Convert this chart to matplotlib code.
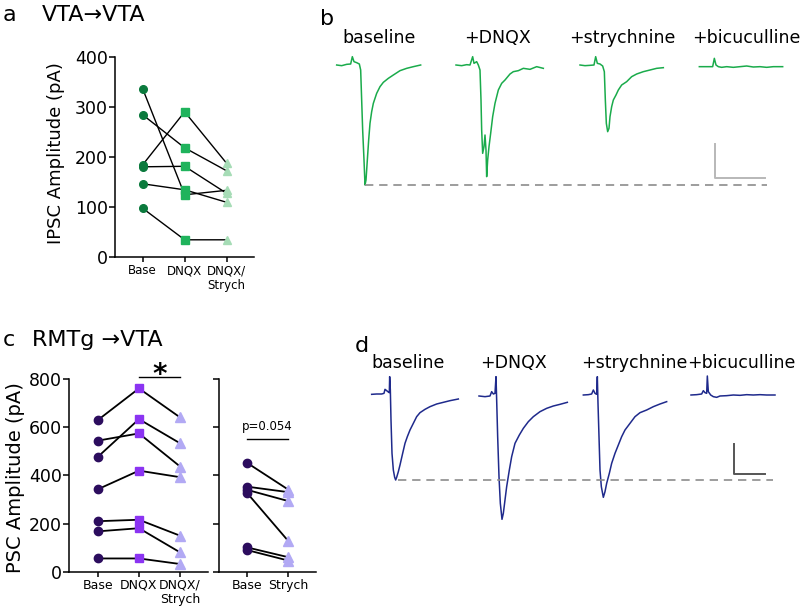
import matplotlib
matplotlib.use('Agg')
import matplotlib.pyplot as plt

plt.rcParams['font.family'] = ['DejaVu Sans']

# ---------------- data ----------------
cat3 = ['Base', 'DNQX', 'DNQX/\nStrych']
cat2 = ['Base', 'Strych']

# panel a (VTA->VTA), IPSC amplitude (pA)
a_base = [337, 285, 185, 181, 147, 98]
a_dnqx = [125, 219, 291, 182, 135, 35]
a_strych = [134, 173, 188, 128, 110, 35]
a_yticks = [0, 100, 200, 300, 400]

# panel c (RMTg->VTA), PSC amplitude (pA)
c_base = [628, 543, 476, 342, 210, 168, 56]
c_dnqx = [759, 573, 632, 419, 216, 181, 56]
c_strych = [639, 436, 532, 392, 150, 81, 33]
c2_base = [452, 353, 340, 328, 102, 91]
c2_strych = [340, 330, 293, 127, 61, 47]
c_yticks = [0, 200, 400, 600, 800]

# panel b traces (time ms, current pA)
b_base_t = [0, 15, 30, 42, 47, 52, 60, 68, 72, 75, 78, 82, 85, 88, 92, 96, 100, 105, 110, 120,
            130, 140, 155, 170, 190, 210, 230, 252]
b_base_i = [-1, -3, 1, 2, 24, 9, 6, 2, -16, -106, -196, -286, -361, -346, -286, -226, -176, -141, -116, -86,
            -66, -53, -41, -31, -18, -11, -6, -1]
b_dnqx_t = [0, 17, 32, 42, 50, 54, 62, 67, 72, 75, 77, 80, 84, 87, 90, 92, 95, 99, 104, 110,
            117, 127, 137, 147, 162, 172, 187, 202, 222, 242, 262]
b_dnqx_i = [-1, -3, 0, -1, 24, 4, 9, -1, -16, -106, -196, -266, -246, -211, -256, -336, -286, -246, -206, -156,
            -116, -76, -56, -46, -28, -21, -18, -11, -14, -6, -11]
b_strych_t = [0, 15, 30, 42, 47, 52, 60, 68, 73, 76, 79, 83, 87, 90, 95, 100, 108, 115, 125, 140,
              155, 170, 190, 210, 230, 250]
b_strych_i = [-1, -3, -2, -1, 24, 4, 2, -4, -21, -106, -176, -201, -191, -156, -126, -106, -91, -76, -61, -51,
              -36, -28, -21, -16, -11, -9]
b_bic_t = [0, 22, 40, 45, 50, 57, 67, 82, 102, 122, 142, 162, 182, 202, 222, 250]
b_bic_i = [-6, -6, -6, 19, -1, -6, -8, -6, -8, -6, -4, -7, -6, -8, -6, -6]

# panel d traces (time ms, current pA)
d_base_t = [0, 15, 30, 37, 40, 45, 50, 53, 54, 56, 58, 61, 65, 69, 72, 75, 80, 85, 93, 100,
            107, 115, 125, 135, 145, 160, 175, 195, 215, 235, 260]
d_base_i = [4, 6, 6, 10, 34, 26, 18, 14, 110, 30, -150, -350, -450, -494, -510, -494, -460, -420, -350, -290,
            -250, -210, -170, -130, -106, -86, -70, -54, -44, -34, -24]
d_dnqx_t = [0, 18, 33, 38, 43, 48, 51, 53, 56, 60, 64, 69, 73, 78, 83, 91, 98, 108, 121, 133,
            148, 163, 183, 203, 223, 243, 265]
d_dnqx_i = [-6, -10, -6, 20, 6, 10, 110, -30, -250, -490, -650, -746, -710, -630, -550, -450, -370, -290, -240, -200,
            -160, -130, -100, -80, -66, -56, -44]
d_strych_t = [0, 15, 25, 30, 35, 40, 42, 44, 47, 50, 54, 60, 65, 70, 78, 85, 95, 105, 115, 125,
              140, 155, 170, 190, 210, 230, 250]
d_strych_i = [0, 2, 6, 30, 10, 4, 110, -50, -250, -450, -550, -614, -580, -530, -470, -410, -350, -300, -250, -210,
              -170, -130, -106, -90, -70, -54, -40]
d_bic_t = [0, 17, 32, 37, 42, 47, 49, 52, 59, 67, 77, 87, 107, 127, 147, 167, 187, 207, 227, 252]
d_bic_i = [0, 2, 6, 26, 14, 10, 114, 20, 0, -10, -14, -6, -4, 0, -2, 2, 0, 2, 0, 0]

trace_labels = ['baseline', '+DNQX', '+strychnine', '+bicuculline']
b_scale = (100, 150)   # pA, ms
d_scale = (180, 93)    # pA, ms

# ---------------- layout ----------------
W, H = 800, 610
fig = plt.figure(figsize=(8, 6.1), dpi=100)


def px_axes(l, t, r, b):
    return fig.add_axes([l / W, 1 - b / H, (r - l) / W, (b - t) / H])


def style(ax, xlim, ylim, yticks, xticks, xlabels, xfs, ylabels=True):
    for s in ['top', 'right']:
        ax.spines[s].set_visible(False)
    for s in ['left', 'bottom']:
        ax.spines[s].set_linewidth(1.1)
    ax.set_xlim(*xlim)
    ax.set_ylim(*ylim)
    ax.set_yticks(yticks)
    ax.set_xticks(xticks)
    ax.set_xticklabels(xlabels, fontsize=xfs, linespacing=1.15)
    ax.tick_params(axis='y', direction='out', length=4.5, width=1.1, labelsize=12.5, pad=0.5)
    ax.tick_params(axis='x', direction='out', length=3.5, width=1.1, pad=1.5)
    if not ylabels:
        ax.set_yticklabels([])


GREEN_D, GREEN_M, GREEN_L = '#0b7a3d', '#1fb35c', '#a6dcb6'
PURP_D, PURP_M, PURP_L = '#2c0d5e', '#8b34f2', '#b2a9f4'

# panel a
axa = px_axes(115, 57.3, 254.3, 257.3)
style(axa, (-0.66, 2.66), (0, 400), a_yticks, [0, 1, 2], cat3, 8.5)
for i in range(len(a_base)):
    axa.plot([0, 1, 2], [a_base[i], a_dnqx[i], a_strych[i]], color='k', lw=1.0, zorder=2)
axa.plot([0] * len(a_base), a_base, 'o', ms=5.5, color=GREEN_D, zorder=3, clip_on=False)
axa.plot([1] * len(a_dnqx), a_dnqx, 's', ms=5.5, color=GREEN_M, zorder=3, clip_on=False)
axa.plot([2] * len(a_strych), a_strych, '^', ms=6, color=GREEN_L, zorder=3, clip_on=False)
axa.set_ylabel('IPSC Amplitude (pA)', fontsize=13)
axa.yaxis.set_label_coords(-0.36, 0.52)

# panel c left
axc = px_axes(69, 378.5, 207.7, 572)
style(axc, (-0.70, 2.67), (0, 800), c_yticks, [0, 1, 2], cat3, 9)
for i in range(len(c_base)):
    axc.plot([0, 1, 2], [c_base[i], c_dnqx[i], c_strych[i]], color='k', lw=1.3, zorder=2)
axc.plot([0] * len(c_base), c_base, 'o', ms=6, color=PURP_D, zorder=3, clip_on=False)
axc.plot([1] * len(c_dnqx), c_dnqx, 's', ms=6, color=PURP_M, zorder=3, clip_on=False)
axc.plot([2] * len(c_strych), c_strych, '^', ms=6.5, color=PURP_L, zorder=3, clip_on=False)
axc.set_ylabel('PSC Amplitude (pA)', fontsize=14)
axc.yaxis.set_label_coords(-0.317, 0.486)
axc.plot([1, 2], [805, 805], color='k', lw=1.0, clip_on=False)
axc.text(1.5, 781, '*', ha='center', va='baseline', fontsize=20, fontweight='bold', clip_on=False)

# panel c right
axc2 = px_axes(219.3, 378.5, 316, 572)
style(axc2, (-0.66, 1.66), (0, 800), c_yticks, [0, 1], cat2, 9, ylabels=False)
for i in range(len(c2_base)):
    axc2.plot([0, 1], [c2_base[i], c2_strych[i]], color='k', lw=1.3, zorder=2)
axc2.plot([0] * len(c2_base), c2_base, 'o', ms=6, color=PURP_D, zorder=3, clip_on=False)
axc2.plot([1] * len(c2_strych), c2_strych, '^', ms=6.5, color=PURP_L, zorder=3, clip_on=False)
axc2.plot([0, 1], [550, 550], color='k', lw=1.0)
axc2.text(0.5, 575, 'p=0.054', ha='center', va='bottom', fontsize=8.5)

# panel b traces
axb = px_axes(320, 40, 800, 200)
axb.set_xlim(0, 1440)
axb.set_ylim((64.67 - 200) * 3, (64.67 - 40) * 3)
axb.axis('off')
TR_B = '#1aab4b'
b_traces = [(b_base_t, b_base_i), (b_dnqx_t, b_dnqx_i), (b_strych_t, b_strych_i), (b_bic_t, b_bic_i)]
b_offsets = [50, 408, 780, 1138]
for (t, c), off in zip(b_traces, b_offsets):
    axb.plot([off + v for v in t], c, color=TR_B, lw=1.1)
b_min = min(b_base_i)
axb.plot([135, 1340], [b_min, b_min], color='#8c8c8c', lw=1.2, ls=(0, (5, 3.5)))
bx0, by0 = 1186, -339
axb.plot([bx0, bx0, bx0 + b_scale[1]], [by0 + b_scale[0], by0, by0], color='#b8b8b8', lw=1.4)

# panel d traces
axd = px_axes(320, 360, 800, 560)
axd.set_xlim(0, 1440)
axd.set_ylim((395 - 560) * 6, (395 - 360) * 6)
axd.axis('off')
TR_D = '#1f2a8c'
d_traces = [(d_base_t, d_base_i), (d_dnqx_t, d_dnqx_i), (d_strych_t, d_strych_i), (d_bic_t, d_bic_i)]
d_offsets = [155, 477, 790, 1113]
for (t, c), off in zip(d_traces, d_offsets):
    axd.plot([off + v for v in t], c, color=TR_D, lw=1.1)
d_min = min(d_base_i)
axd.plot([234, 1360], [d_min, d_min], color='#8c8c8c', lw=1.2, ls=(0, (5, 3.5)))
dx0, dy0 = 1242, -474
axd.plot([dx0, dx0, dx0 + d_scale[1]], [dy0 + d_scale[0], dy0, dy0], color='#555555', lw=1.4)

# titles and labels
def ftext(x, y, s, **kw):
    fig.text(x / W, 1 - y / H, s, va='baseline', **kw)

ftext(3, 20.7, 'a', fontsize=16)
ftext(42, 20.7, 'VTA→VTA', fontsize=16)
ftext(3, 346, 'c', fontsize=16)
ftext(32, 346, 'RMTg →VTA', fontsize=16)
ftext(320, 25, 'b', fontsize=16)
ftext(355, 351.7, 'd', fontsize=16)

for x, s in zip([379, 497.3, 622.7, 746], trace_labels):
    ftext(x, 43.3, s, fontsize=12.5, ha='center')
for x, s in zip([408, 513, 634, 741.5], trace_labels):
    ftext(x, 368.3, s, fontsize=12.5, ha='center')

fig.savefig('out.png', dpi=100)
